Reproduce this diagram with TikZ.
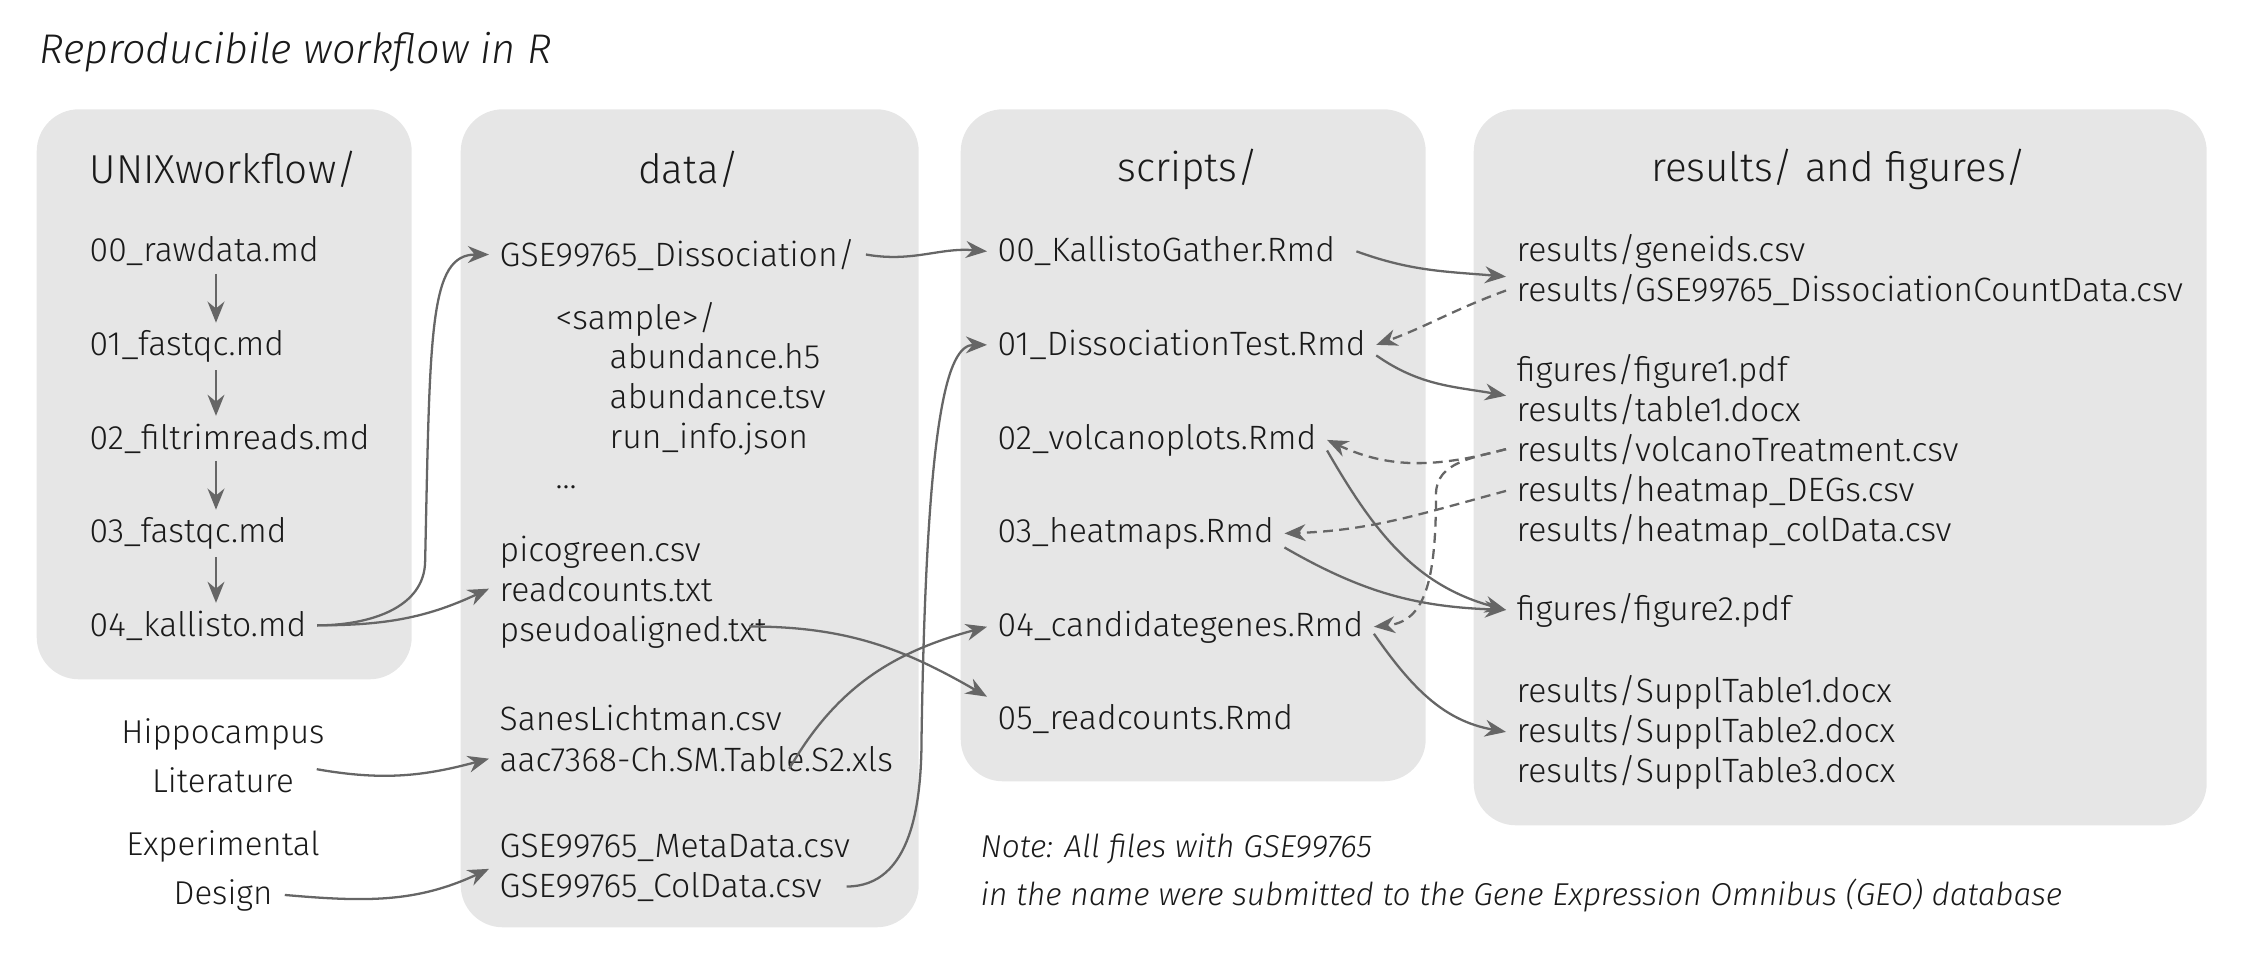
\documentclass[tikz,border=0pt]{standalone}
\usepackage{fontspec}
\setmainfont{Fira Sans}[UprightFont=* Light,ItalicFont=* Light Italic]
\usetikzlibrary{arrows.meta}
\definecolor{ink}{HTML}{1A1A1A}
\definecolor{wire}{HTML}{666666}
\definecolor{shade}{HTML}{E6E6E6}

\begin{document}
\begin{tikzpicture}[font=\fontsize{9.6}{11.5}\selectfont,>={Stealth[length=6pt,width=4.8pt]}]
\tikzset{panel/.style={fill=shade,rounded corners=12pt,anchor=south west,inner sep=0pt},
  head/.style={ink,font=\fontsize{11.5}{13.5}\selectfont},
  file/.style={ink,anchor=base west,inner xsep=.1cm,inner ysep=2pt},
  source/.style={ink,anchor=base,font=\fontsize{9.4}{11}\selectfont},
  flow/.style={->,wire,line width=.65pt},
  feed/.style={flow,dash pattern=on 2.8pt off 1.8pt}}
\useasboundingbox (0,0) rectangle (22.46,9.72);

\node[ink,font=\fontsize{11.8}{14}\selectfont\itshape,anchor=base west] (title) at (.27,9.08) {Reproducibile workflow in R};

% folders
\node[panel,minimum width=3.75cm,minimum height=5.70cm] (unixbox) at (.36,2.92) {};
\node[panel,minimum width=4.58cm,minimum height=8.18cm] (databox) at (4.60,.44) {};
\node[panel,minimum width=4.65cm,minimum height=6.72cm] (scriptbox) at (9.60,1.90) {};
\node[panel,minimum width=7.33cm,minimum height=7.16cm] (resultbox) at (14.73,1.46) {};
\node[head] (unixhead) at (2.235,8.03) {UNIXworkflow/};
\node[head] (datahead) at (6.89,8.03) {data/};
\node[head] (scripthead) at (11.88,8.03) {scripts/};
\node[head] (resulthead) at (18.39,8.03) {results/ and figures/};

% UNIX steps
\foreach \nm/\txt [count=\k from 0] in {raw/00\_rawdata.md,fqcone/01\_fastqc.md,trim/02\_filtrimreads.md,fqctwo/03\_fastqc.md,kal/04\_kallisto.md}
  \node[file] (\nm) at (.79,{7.10-.935*\k}) {\txt};
\coordinate (spine) at (2.16,0);
\foreach \a/\b in {raw/fqcone,fqcone/trim,trim/fqctwo,fqctwo/kal}
  \draw[flow] (\a.south -| spine) -- (\b.north -| spine);

% data
\node[file] (diss) at (4.89,7.06) {GSE99765\_Dissociation/};
\node[file] (sample) at (5.45,6.43) {\textless sample\textgreater/};
\node[file] (hfive) at (5.99,6.04) {abundance.h5};
\node[file] (tsv) at (5.99,5.64) {abundance.tsv};
\node[file] (json) at (5.99,5.24) {run\_info.json};
\node[file] (dots) at (5.45,4.84) {...};
\node[file] (pico) at (4.89,4.11) {picogreen.csv};
\node[file] (readc) at (4.89,3.71) {readcounts.txt};
\node[file] (pseudo) at (4.89,3.31) {pseudoaligned.txt};
\node[file] (sanes) at (4.89,2.42) {SanesLichtman.csv};
\node[file] (aac) at (4.89,2.01) {aac7368-Ch.SM.Table.S2.xls};
\node[file] (meta) at (4.89,1.15) {GSE99765\_MetaData.csv};
\node[file] (coldata) at (4.89,.75) {GSE99765\_ColData.csv};

\node[source] (hippo) at (2.23,2.29) {Hippocampus};
\node[source] (lit) at (2.23,1.80) {Literature};
\node[source] (exper) at (2.23,1.17) {Experimental};
\node[source] (design) at (2.23,.68) {Design};

% scripts
\foreach \nm/\txt [count=\k from 0] in {gather/00\_KallistoGather.Rmd,dtest/01\_DissociationTest.Rmd,volc/02\_volcanoplots.Rmd,heat/03\_heatmaps.Rmd,cand/04\_candidategenes.Rmd,rcount/05\_readcounts.Rmd}
  \node[file] (\nm) at (9.87,{7.10-.935*\k}) {\txt};

% results
\node[file] (geneids) at (15.06,7.10) {results/geneids.csv};
\node[file] (counts) at (15.06,6.70) {results/GSE99765\_DissociationCountData.csv};
\node[file] (figone) at (15.06,5.91) {figures/figure1.pdf};
\node[file] (tabone) at (15.06,5.51) {results/table1.docx};
\node[file] (volct) at (15.06,5.11) {results/volcanoTreatment.csv};
\node[file] (degs) at (15.06,4.71) {results/heatmap\_DEGs.csv};
\node[file] (hcol) at (15.06,4.31) {results/heatmap\_colData.csv};
\node[file] (figtwo) at (15.06,3.52) {figures/figure2.pdf};
\node[file] (supone) at (15.06,2.70) {results/SupplTable1.docx};
\node[file] (suptwo) at (15.06,2.30) {results/SupplTable2.docx};
\node[file] (supthree) at (15.06,1.90) {results/SupplTable3.docx};

\node[file,font=\fontsize{9}{11}\selectfont\itshape] (noteone) at (9.70,1.15) {Note: All files with GSE99765};
\node[file,font=\fontsize{9}{11}\selectfont\itshape] (notetwo) at (9.70,.67) {in the name were submitted to the Gene Expression Omnibus (GEO) database};

% inputs into data/ and scripts/
\draw[flow] (kal.east) to[out=0,in=-90] ++(1.08,.65) .. controls +(.05,2.3) and +(-.6,0) .. (diss.west);
\draw[flow] (kal.east) to[out=0,in=205] (readc.west);
\draw[flow] ([shift={(3pt,3pt)}]lit.east) to[out=-10,in=195] (aac.west);
\draw[flow] (design.east) to[out=-5,in=205] (meta.south west);
\draw[flow] (diss.east) to[out=-10,in=175] (gather.west);
\draw[flow] ([shift={(-8pt,1.5pt)}]pseudo.east) to[out=0,in=150] (rcount.north west);
\draw[flow] ([shift={(.93,-.1)}]aac.center) to[out=60,in=195] (cand.west);
\draw[flow] ([xshift=4pt]coldata.east) to[out=0,in=-90] ++(.75,1.5) .. controls +(.05,3.2) and +(-.4,0) .. (dtest.west);

% outputs of scripts/
\draw[flow] ([xshift=3pt]gather.east) to[out=-20,in=175] (geneids.south west);
\draw[flow] ([yshift=-3pt]dtest.east) to[out=-35,in=170] (figone.south west);
\draw[flow] ([yshift=-3pt]volc.east) to[out=-60,in=165] (figtwo.west);
\draw[flow] ([yshift=-4pt]heat.east) to[out=-30,in=178] (figtwo.west);
\draw[flow] ([yshift=-2pt]cand.east) to[out=-55,in=170] (suptwo.west);

% results read back
\draw[feed] (counts.west) to[out=200,in=20] (dtest.east);
\draw[feed] (volct.west) to[out=195,in=-25] (volc.east);
\draw[feed] (volct.west) to[out=195,in=90] ++(-.7,-.45) .. controls +(0,-.9) and +(.5,.05) .. (cand.east);
\draw[feed] (degs.west) to[out=195,in=2] (heat.east);
\end{tikzpicture}
\end{document}
